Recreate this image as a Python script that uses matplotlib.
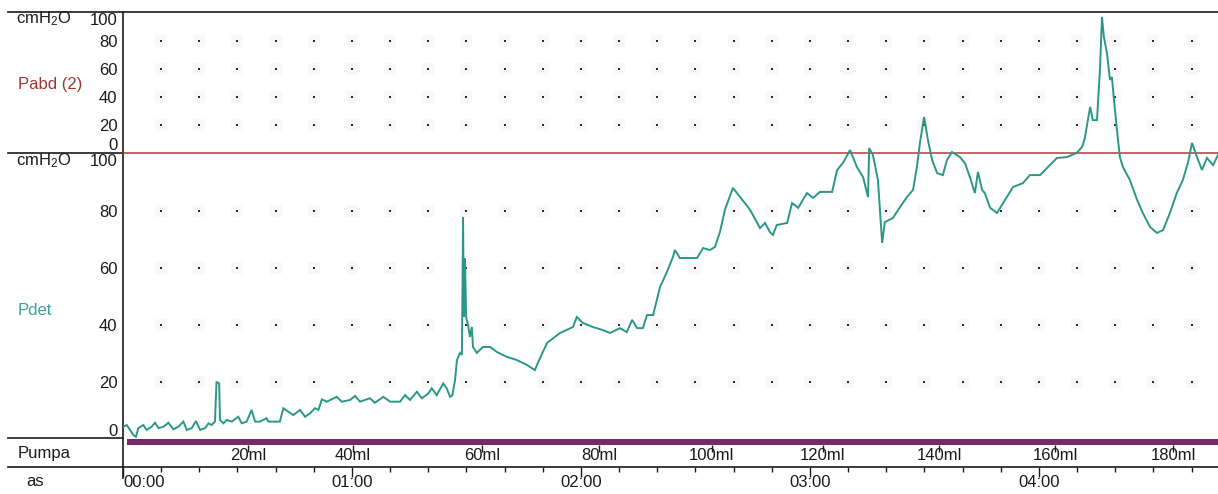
import matplotlib
matplotlib.use("Agg")
import matplotlib.pyplot as plt

plt.rcParams['font.family'] = ['Liberation Sans', 'DejaVu Sans']
plt.rcParams['mathtext.default'] = 'regular'

# ---- recorded channels -------------------------------------------------
# Pdet: time (s) and detrusor pressure (cmH2O)
pdet_t = [
    0.1, 0.96, 1.83, 2.7, 3.4, 4.0, 5.3, 6.2, 7.5, 8.4,
    9.3, 10.6, 11.9, 13.2, 14.5, 15.8, 16.7, 18.0, 19.1, 20.2,
    21.5, 22.4, 23.2, 24.1, 24.5, 25.2, 25.4, 26.3, 27.2, 28.5,
    30.2, 31.1, 32.4, 33.7, 34.6, 35.9, 37.6, 38.1, 41.1, 42.0,
    43.3, 44.6, 46.4, 47.7, 49.0, 50.3, 51.2, 52.1, 53.4, 56.0,
    57.3, 59.5, 60.8, 62.1, 64.7, 66.0, 68.2, 70.0, 72.6, 73.9,
    75.2, 77.0, 78.3, 80.0, 80.9, 82.2, 83.9, 84.8, 85.7, 86.3,
    87.0, 87.5, 88.3, 88.8, 89.1, 89.3, 89.6, 89.9, 90.4, 90.9,
    91.4, 91.7, 92.7, 94.3, 96.2, 98.0, 100.6, 103.2, 105.8, 107.9,
    108.7, 111.1, 114.5, 117.9, 118.9, 120.5, 123.1, 125.8, 127.6, 130.2,
    132.0, 133.4, 134.7, 136.2, 137.3, 138.9, 140.7, 142.5, 144.1, 144.6,
    145.9, 147.8, 150.4, 152.0, 153.8, 155.1, 156.4,
    157.7, 159.8, 161.7, 164.3, 166.9, 168.2, 169.5, 170.3, 171.3, 174.0,
    175.3, 176.9, 179.2, 180.8, 182.6, 185.8, 187.1, 188.6, 190.5, 192.3,
    193.9, 195.2, 195.5, 196.5, 197.8, 198.9, 199.6, 201.7, 203.6, 205.4,
    207.0, 208.0, 208.8, 209.9, 210.9, 212.0, 213.3, 214.8, 215.9, 217.2,
    219.3, 220.6, 221.9, 223.2, 224.0, 225.1, 225.8, 227.2, 229.0, 230.6,
    233.2, 235.8, 237.6, 240.3, 242.1, 244.7, 247.3, 249.9, 251.3, 252.0,
    253.4, 254.1, 255.2, 256.0, 256.5, 257.0, 257.8, 258.6, 259.1, 259.9,
    260.7, 261.2, 262.0, 263.8, 265.7, 267.2, 269.1, 270.9, 272.5, 274.3,
    276.1, 277.7, 279.0, 280.1, 281.4, 282.7, 284.0, 285.6, 286.9,
]
pdet = [
    4.3, 4.9, 3.2, 1.4, 0.8, 3.8, 4.9, 3.2, 4.3, 5.7,
    3.8, 4.3, 5.7, 3.4, 4.3, 6.1, 3.2, 3.8, 6.3, 3.2,
    3.8, 5.5, 4.9, 6.1, 20.1, 19.5, 6.7, 5.5, 6.7, 6.1,
    7.8, 5.5, 6.1, 10.2, 6.1, 6.1, 7.3, 6.1, 6.1, 10.8,
    9.6, 8.4, 10.2, 7.8, 9.0, 10.8, 10.2, 13.9, 13.1, 14.8,
    13.1, 13.7, 15.1, 13.1, 14.3, 12.7, 14.8, 13.1, 13.1, 15.4,
    13.7, 16.6, 14.3, 16.0, 17.8, 15.4, 19.5, 17.8, 14.8, 15.4,
    20.7, 27.7, 30.2, 29.5, 77.9, 42.8, 63.5, 42.8, 40.0, 35.8,
    39.3, 32.3, 30.2, 32.3, 32.3, 30.5, 28.8, 27.7, 26.0, 24.2,
    26.7, 33.7, 37.2, 39.3, 42.8, 40.7, 39.3, 38.2, 37.2, 38.9,
    37.5, 41.8, 38.9, 38.9, 43.5, 43.5, 53.3, 58.6, 63.9, 66.3,
    63.5, 63.5, 63.5, 67.0, 66.3, 67.4, 72.6,
    80.4, 88.1, 84.9, 80.4, 74.0, 75.8, 72.6, 71.6, 75.1, 75.8,
    82.8, 81.1, 86.3, 84.6, 86.7, 86.7, 94.4, 96.8, 101.4, 95.4,
    91.9, 84.9, 102.1, 99.6, 90.9, 68.8, 76.1, 77.5, 81.4, 84.9,
    87.4, 95.4, 103.9, 113.0, 104.9, 97.9, 93.3, 92.6, 97.9, 100.7,
    98.9, 96.8, 91.9, 86.3, 93.7, 87.4, 86.3, 81.1, 79.3, 82.8,
    88.4, 89.8, 92.6, 92.6, 95.1, 98.6, 98.9, 100.4, 102.5, 105.6,
    116.5, 111.9, 111.9, 130.5, 148.1, 141.1, 135.4, 126.0, 127.0, 115.4,
    104.9, 98.9, 95.4, 90.9, 83.9, 79.3, 74.4, 72.3, 73.3, 79.3,
    86.3, 90.9, 96.8, 103.9, 98.9, 94.4, 98.6, 96.1, 99.6,
]

# Pabd (2): flat at zero through the whole record
pabd_t = [0.0, 286.9]
pabd = [0.0, 0.0]

# Pump channel: running interval and infused-volume marks
pump_run = [1.0, 286.9]
pump_ml = [20, 40, 60, 80, 100, 120, 140, 160, 180]
pump_t = [32.8, 60.3, 94.1, 124.7, 154.3, 183.4, 213.8, 244.2, 275.1]

# Scales
record_end = 286.9
pdet_ticks = [0, 20, 40, 60, 80, 100]
pabd_ticks = [0, 20, 40, 60, 80, 100]
grid_levels = [20, 40, 60, 80]
grid_times = list(range(10, 290, 10))
time_major = [0, 60, 120, 180, 240]
time_minor = [t for t in range(10, 290, 10) if t % 60]

# ---- layout (pixels) ---------------------------------------------------
W, H = 1218, 494
X0 = 123            # left edge of trace area
PX_PER_S = (W - X0) / record_end
PX_PER_DET = 2.85   # Pdet pixels per cmH2O

TEAL = '#2b9787'
TEAL_LABEL = '#3aa595'
RED = '#b03b3b'
RED_LABEL = '#a3352f'
PURPLE = '#7a2968'
INK = '#1a1a1a'
FS = 12


def rect(x0, y0, x1, y1):
    return [x0 / W, 1 - y1 / H, (x1 - x0) / W, (y1 - y0) / H]


fig = plt.figure(figsize=(W / 100, H / 100), dpi=100)

# frame lines and channel names
deco = fig.add_axes([0, 0, 1, 1])
deco.set_xlim(0, W)
deco.set_ylim(H, 0)
deco.axis('off')
lw = 1.2
deco.plot([8, W], [12, 12], color=INK, lw=lw)
deco.plot([8, X0], [153, 153], color=INK, lw=lw)
deco.plot([8, X0], [438, 438], color=INK, lw=lw)
deco.plot([X0, X0], [12, 478], color=INK, lw=lw)
deco.text(44, 19, 'cmH$_2$O', fontsize=FS, ha='center', va='center', color=INK)
deco.text(44, 161, 'cmH$_2$O', fontsize=FS, ha='center', va='center', color=INK)
deco.text(18, 84, 'Pabd (2)', fontsize=FS, ha='left', va='center', color=RED_LABEL)
deco.text(18, 310, 'Pdet', fontsize=FS, ha='left', va='center', color=TEAL_LABEL)
deco.text(18, 453, 'Pumpa', fontsize=FS, ha='left', va='center', color=INK)
deco.text(35, 481, 'as', fontsize=FS, ha='center', va='center', color=INK)


def dot_grid(ax, levels):
    xs = [t for lv in levels for t in grid_times]
    ys = [lv for lv in levels for t in grid_times]
    ax.scatter(xs, ys, s=80, marker='s', color='#f8f8f8', lw=0, zorder=1, clip_on=False)
    ax.scatter(xs, ys, s=3.5, marker='s', color='#2a2a2a', lw=0, zorder=2, clip_on=False)


def value_axis(ax, ticks):
    for s in ax.spines.values():
        s.set_visible(False)
    ax.set_xticks([])
    ax.set_yticks(ticks, [str(v) for v in ticks])
    ax.tick_params(axis='y', length=0, pad=4, labelsize=FS, labelcolor=INK)
    labels = ax.get_yticklabels()
    labels[0].set_verticalalignment('bottom')
    labels[-1].set_verticalalignment('top')


# Pabd panel
ax_abd = fig.add_axes(rect(X0, 13, W, 153))
ax_abd.patch.set_visible(False)
ax_abd.set_xlim(0, record_end)
ax_abd.set_ylim(0, 100)
value_axis(ax_abd, pabd_ticks)
dot_grid(ax_abd, grid_levels)
ax_abd.plot(pabd_t, pabd, color=RED, lw=1.1, zorder=3, clip_on=False)

# Pdet panel (trace may run up into the Pabd band)
ax_det = fig.add_axes(rect(X0, 12, W, 439))
ax_det.patch.set_visible(False)
ax_det.set_xlim(0, record_end)
ax_det.set_ylim(0, (439 - 12) / PX_PER_DET)
value_axis(ax_det, pdet_ticks)
dot_grid(ax_det, grid_levels)
ax_det.plot(pdet_t, pdet, color=TEAL, lw=1.4, zorder=4, solid_joinstyle='miter')

# Pump channel
ax_pump = fig.add_axes(rect(X0, 439, W, 445))
ax_pump.patch.set_visible(False)
ax_pump.set_xlim(0, record_end)
ax_pump.set_ylim(0, 1)
for s in ax_pump.spines.values():
    s.set_visible(False)
ax_pump.fill_between(pump_run, 0, 1, color=PURPLE, lw=0)
ax_pump.set_yticks([])
ax_pump.set_xticks(pump_t, [f'{v}ml' for v in pump_ml])
ax_pump.tick_params(axis='x', direction='out', length=5, width=1, color=INK,
                    pad=-2.5, labelsize=FS, labelcolor=INK)

# Time axis
t_left = -(X0 - 8) / PX_PER_S
ax_time = fig.add_axes(rect(8, 466, W, 467))
ax_time.patch.set_visible(False)
ax_time.set_xlim(t_left, record_end)
for name, s in ax_time.spines.items():
    s.set_visible(name == 'bottom')
ax_time.spines['bottom'].set_linewidth(1.2)
ax_time.spines['bottom'].set_color(INK)
ax_time.set_yticks([])
ax_time.set_xticks(time_major, [f'{int(t // 60):02d}:{int(t % 60):02d}' for t in time_major])
ax_time.set_xticks(time_minor, minor=True)
ax_time.tick_params(axis='x', which='major', direction='out', length=7.5, width=1,
                    color=INK, pad=-2.0, labelsize=FS, labelcolor=INK)
ax_time.tick_params(axis='x', which='minor', direction='out', length=3.8, width=1, color=INK)
ax_time.get_xticklabels()[0].set_horizontalalignment('left')

fig.savefig('out.png', dpi=100)
